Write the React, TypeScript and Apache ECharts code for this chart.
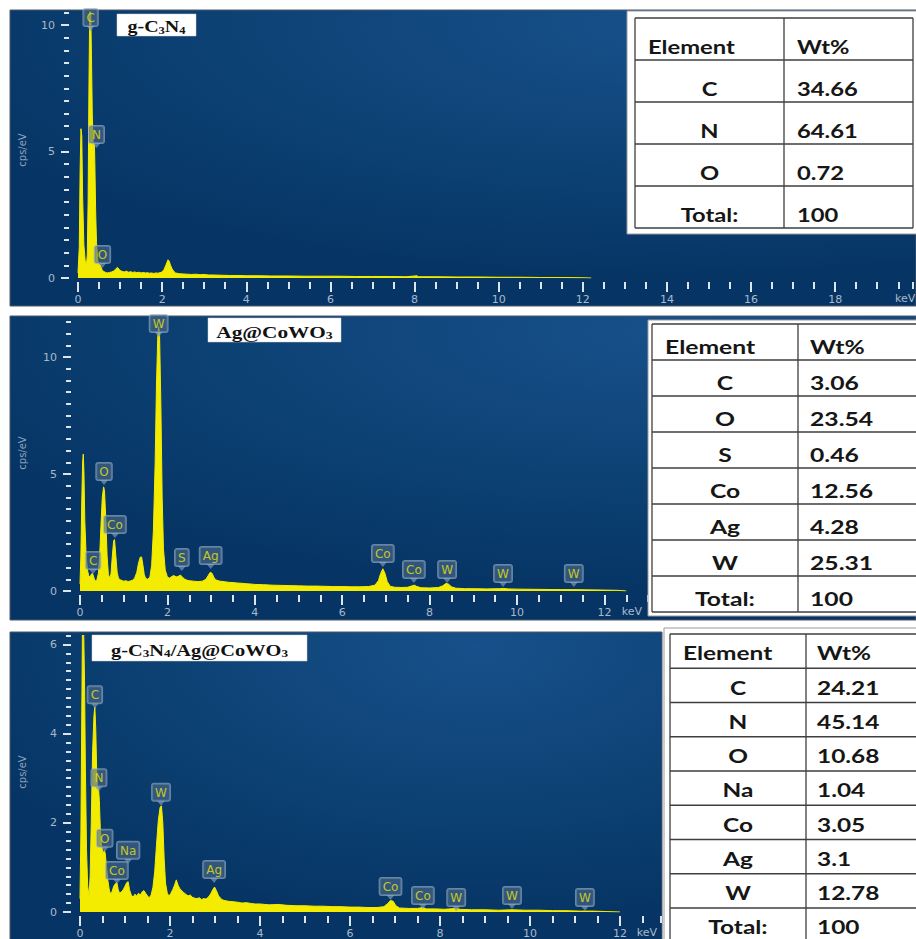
import React, { useEffect, useRef } from 'react';
import * as echarts from 'echarts';

// ---------- DATA ----------
// EDX spectra: [energy keV, counts cps/eV]
const spectrumGC3N4: [number, number][] = [
  [0, 0.2], [0.03, 1.2], [0.05, 4.2], [0.07, 5.9], [0.09, 5.6], [0.11, 3.2], [0.14, 1.3], [0.17, 0.7],
  [0.2, 0.5], [0.22, 0.9], [0.24, 3.0], [0.26, 7.5], [0.28, 10.8], [0.3, 10.8], [0.32, 8.8], [0.34, 6.4],
  [0.36, 5.4], [0.38, 5.0], [0.39, 5.3], [0.4, 4.6], [0.42, 2.6], [0.44, 1.4], [0.47, 0.7], [0.5, 0.5],
  [0.52, 0.55], [0.55, 0.42], [0.58, 0.3], [0.62, 0.25], [0.66, 0.22], [0.7, 0.2], [0.75, 0.22], [0.8, 0.24],
  [0.85, 0.28], [0.9, 0.36], [0.94, 0.42], [0.97, 0.36], [1.0, 0.3], [1.05, 0.26], [1.1, 0.24], [1.15, 0.27],
  [1.2, 0.23], [1.25, 0.25], [1.3, 0.22], [1.35, 0.24], [1.4, 0.21], [1.45, 0.23], [1.5, 0.2], [1.55, 0.22],
  [1.6, 0.2], [1.65, 0.21], [1.7, 0.19], [1.75, 0.2], [1.8, 0.18], [1.85, 0.2], [1.9, 0.19], [1.95, 0.21],
  [2.0, 0.24], [2.05, 0.35], [2.1, 0.55], [2.14, 0.72], [2.17, 0.66], [2.2, 0.5], [2.24, 0.35], [2.28, 0.26],
  [2.32, 0.2], [2.4, 0.17], [2.5, 0.16], [2.6, 0.15], [2.7, 0.14], [2.8, 0.15], [2.9, 0.13], [3.0, 0.14],
  [3.1, 0.12], [3.2, 0.12], [3.4, 0.11], [3.6, 0.1], [3.8, 0.1], [4.0, 0.09], [4.3, 0.09], [4.6, 0.08],
  [5.0, 0.08], [5.4, 0.07], [5.8, 0.07], [6.2, 0.07], [6.6, 0.06], [7.0, 0.06], [7.4, 0.06], [7.8, 0.05],
  [8.0, 0.08], [8.05, 0.09], [8.1, 0.05], [8.5, 0.05], [9.0, 0.04], [9.5, 0.04], [10.0, 0.03], [10.5, 0.03],
  [11.0, 0.02], [11.5, 0.02], [12.0, 0.01], [12.2, 0],
];

const spectrumAgCoWO3: [number, number][] = [
  [0, 0.3], [0.02, 1.5], [0.04, 3.8], [0.06, 5.5], [0.075, 5.85], [0.09, 5.1], [0.11, 3.0], [0.14, 1.5],
  [0.17, 0.9], [0.2, 0.65], [0.23, 0.6], [0.26, 0.72], [0.28, 0.76], [0.3, 0.68], [0.33, 0.5], [0.36, 0.42],
  [0.39, 0.5], [0.42, 0.75], [0.45, 1.5], [0.48, 2.8], [0.51, 4.0], [0.54, 4.45], [0.56, 4.3], [0.59, 3.1],
  [0.62, 1.5], [0.65, 0.7], [0.68, 0.55], [0.71, 0.75], [0.74, 1.5], [0.77, 2.15], [0.79, 2.2], [0.82, 1.5],
  [0.85, 0.8], [0.88, 0.55], [0.92, 0.48], [0.96, 0.45], [1.0, 0.42], [1.05, 0.44], [1.1, 0.4], [1.15, 0.43],
  [1.2, 0.46], [1.25, 0.55], [1.3, 0.8], [1.34, 1.2], [1.38, 1.45], [1.41, 1.45], [1.44, 1.1], [1.47, 0.7],
  [1.5, 0.55], [1.55, 0.5], [1.6, 0.6], [1.64, 1.1], [1.68, 2.6], [1.72, 5.5], [1.75, 8.8], [1.78, 10.9],
  [1.8, 11.3], [1.82, 11.0], [1.85, 8.0], [1.88, 4.0], [1.91, 1.8], [1.95, 0.9], [2.0, 0.6], [2.05, 0.55],
  [2.1, 0.62], [2.15, 0.66], [2.2, 0.6], [2.25, 0.63], [2.3, 0.68], [2.35, 0.58], [2.4, 0.5], [2.45, 0.46],
  [2.5, 0.44], [2.6, 0.42], [2.7, 0.4], [2.8, 0.42], [2.88, 0.5], [2.94, 0.68], [2.98, 0.8], [3.02, 0.76],
  [3.06, 0.6], [3.1, 0.48], [3.2, 0.42], [3.3, 0.4], [3.4, 0.37], [3.5, 0.36], [3.6, 0.34], [3.7, 0.33],
  [3.8, 0.31], [3.9, 0.3], [4.0, 0.28], [4.2, 0.27], [4.4, 0.25], [4.6, 0.24], [4.8, 0.23], [5.0, 0.22],
  [5.2, 0.21], [5.4, 0.21], [5.6, 0.2], [5.8, 0.19], [6.0, 0.19], [6.2, 0.18], [6.4, 0.18], [6.6, 0.19],
  [6.75, 0.25], [6.83, 0.45], [6.88, 0.75], [6.93, 0.95], [6.98, 0.75], [7.03, 0.4], [7.1, 0.2], [7.2, 0.16],
  [7.35, 0.15], [7.5, 0.16], [7.6, 0.22], [7.65, 0.25], [7.7, 0.2], [7.8, 0.14], [8.0, 0.13], [8.2, 0.15],
  [8.3, 0.22], [8.37, 0.32], [8.43, 0.3], [8.5, 0.18], [8.6, 0.12], [8.8, 0.1], [9.0, 0.1], [9.3, 0.09],
  [9.6, 0.1], [9.7, 0.11], [9.8, 0.09], [10.0, 0.08], [10.5, 0.07], [11.0, 0.06], [11.3, 0.06], [11.6, 0.05],
  [12.0, 0.04], [12.3, 0.03], [12.5, 0],
];

const spectrumComposite: [number, number][] = [
  [0, 0.3], [0.02, 1.8], [0.04, 4.5], [0.055, 6.4], [0.08, 6.4], [0.1, 5.2], [0.12, 3.2], [0.145, 1.4],
  [0.17, 0.6], [0.2, 0.35], [0.225, 0.8], [0.25, 2.0], [0.28, 3.6], [0.31, 4.4], [0.33, 4.6], [0.35, 4.1],
  [0.37, 3.2], [0.39, 2.7], [0.41, 2.8], [0.43, 2.5], [0.45, 1.9], [0.48, 1.5], [0.51, 1.3], [0.54, 1.38],
  [0.56, 1.32], [0.59, 1.0], [0.62, 0.7], [0.65, 0.5], [0.68, 0.4], [0.71, 0.45], [0.75, 0.58], [0.79, 0.64],
  [0.82, 0.66], [0.85, 0.5], [0.88, 0.42], [0.92, 0.45], [0.96, 0.5], [1.0, 0.58], [1.04, 0.66], [1.07, 0.68],
  [1.1, 0.5], [1.14, 0.38], [1.18, 0.33], [1.22, 0.4], [1.26, 0.36], [1.3, 0.42], [1.34, 0.38], [1.38, 0.45],
  [1.42, 0.48], [1.46, 0.42], [1.5, 0.36], [1.54, 0.32], [1.58, 0.38], [1.62, 0.55], [1.66, 0.9], [1.7, 1.5],
  [1.74, 2.05], [1.78, 2.35], [1.81, 2.38], [1.84, 2.0], [1.87, 1.2], [1.9, 0.65], [1.94, 0.42], [1.98, 0.36],
  [2.02, 0.42], [2.06, 0.5], [2.1, 0.6], [2.14, 0.72], [2.18, 0.6], [2.22, 0.52], [2.26, 0.48], [2.3, 0.44],
  [2.35, 0.4], [2.4, 0.36], [2.45, 0.38], [2.5, 0.33], [2.55, 0.31], [2.6, 0.3], [2.65, 0.32], [2.7, 0.28],
  [2.75, 0.3], [2.8, 0.29], [2.85, 0.33], [2.9, 0.4], [2.95, 0.5], [2.99, 0.56], [3.03, 0.48], [3.08, 0.36],
  [3.15, 0.28], [3.2, 0.26], [3.3, 0.24], [3.4, 0.23], [3.5, 0.22], [3.6, 0.2], [3.7, 0.21], [3.8, 0.19],
  [3.9, 0.18], [4.0, 0.18], [4.2, 0.16], [4.4, 0.17], [4.6, 0.15], [4.8, 0.14], [5.0, 0.14], [5.2, 0.13],
  [5.4, 0.13], [5.6, 0.12], [5.8, 0.12], [6.0, 0.11], [6.2, 0.11], [6.4, 0.1], [6.6, 0.1], [6.75, 0.12],
  [6.83, 0.18], [6.9, 0.26], [6.96, 0.24], [7.02, 0.14], [7.1, 0.09], [7.3, 0.08], [7.5, 0.08], [7.62, 0.1],
  [7.7, 0.07], [7.9, 0.07], [8.1, 0.06], [8.35, 0.08], [8.45, 0.06], [8.7, 0.05], [9.0, 0.05], [9.3, 0.04],
  [9.6, 0.05], [9.9, 0.04], [10.2, 0.04], [10.5, 0.03], [10.8, 0.03], [11.1, 0.02], [11.4, 0.02], [11.7, 0.01],
  [12.0, 0],
];

// Peak markers: element, energy (keV), height of marker tip (cps/eV)
const peaksGC3N4 = [
  { el: 'C', keV: 0.3, cps: 9.76 },
  { el: 'N', keV: 0.44, cps: 5.14 },
  { el: 'O', keV: 0.58, cps: 0.4 },
];
const peaksAgCoWO3 = [
  { el: 'W', keV: 1.8, cps: 10.85 },
  { el: 'O', keV: 0.55, cps: 4.53 },
  { el: 'Co', keV: 0.8, cps: 2.26 },
  { el: 'C', keV: 0.3, cps: 0.73 },
  { el: 'S', keV: 2.33, cps: 0.85 },
  { el: 'Ag', keV: 2.99, cps: 0.94 },
  { el: 'Co', keV: 6.93, cps: 1.03 },
  { el: 'Co', keV: 7.64, cps: 0.34 },
  { el: 'W', keV: 8.4, cps: 0.34 },
  { el: 'W', keV: 9.68, cps: 0.17 },
  { el: 'W', keV: 11.3, cps: 0.17 },
];
const peaksComposite = [
  { el: 'C', keV: 0.33, cps: 4.57 },
  { el: 'N', keV: 0.42, cps: 2.71 },
  { el: 'W', keV: 1.8, cps: 2.38 },
  { el: 'O', keV: 0.55, cps: 1.35 },
  { el: 'Na', keV: 1.07, cps: 1.08 },
  { el: 'Co', keV: 0.82, cps: 0.63 },
  { el: 'Ag', keV: 2.98, cps: 0.65 },
  { el: 'Co', keV: 6.9, cps: 0.27 },
  { el: 'Co', keV: 7.62, cps: 0.07 },
  { el: 'W', keV: 8.36, cps: 0.02 },
  { el: 'W', keV: 9.6, cps: 0.07 },
  { el: 'W', keV: 11.22, cps: 0.02 },
];

// Tick labels
const xLabels1 = [0, 2, 4, 6, 8, 10, 12, 14, 16, 18];
const xLabels23 = [0, 2, 4, 6, 8, 10, 12];
const yLabels1 = [0, 5, 10];
const yLabels2 = [0, 5, 10];
const yLabels3 = [0, 2, 4, 6];

// Composition tables
const tableHeader = ['Element', 'Wt%'];
const totalRow = ['Total:', '100'];
const table1Elements = ['C', 'N', 'O'];
const table1Wt = ['34.66', '64.61', '0.72'];
const table2Elements = ['C', 'O', 'S', 'Co', 'Ag', 'W'];
const table2Wt = ['3.06', '23.54', '0.46', '12.56', '4.28', '25.31'];
const table3Elements = ['C', 'N', 'O', 'Na', 'Co', 'Ag', 'W'];
const table3Wt = ['24.21', '45.14', '10.68', '1.04', '3.05', '3.1', '12.78'];

// Sample titles (rich text: n = normal, s = subscript)
const title1 = '{n|g-C}{s|3}{n|N}{s|4}';
const title2 = '{n|Ag@CoWO}{s|3}';
const title3 = '{n|g-C}{s|3}{n|N}{s|4}{n|/Ag@CoWO}{s|3}';

// ---------- LAYOUT ----------
const panels = [
  {
    bg: [10, 10, 906, 296],
    grid: { left: 78, top: 12.35, width: 837.7, height: 265.65 },
    xMax: 19.85, yMax: 10.5, yStep: 0.5,
    xLabels: xLabels1, yLabels: yLabels1,
    spectrum: spectrumGC3N4, peaks: peaksGC3N4,
    keV: { x: 895, y: 298, align: 'left' },
    cps: { x: 22, y: 150 },
    titleBox: [117, 14, 79, 22], title: title1, titleSize: 16, titleScale: 1.25,
  },
  {
    bg: [10, 316, 906, 304],
    grid: { left: 80, top: 321.9, width: 568.1, height: 269.1 },
    xMax: 13, yMax: 11.5, yStep: 0.5,
    xLabels: xLabels23, yLabels: yLabels2,
    spectrum: spectrumAgCoWO3, peaks: peaksAgCoWO3,
    keV: { x: 632, y: 611, align: 'center' },
    cps: { x: 22, y: 453 },
    titleBox: [208, 318, 133, 24], title: title2, titleSize: 17, titleScale: 1.25,
  },
  {
    bg: [10, 632, 652, 320],
    grid: { left: 80, top: 635.5, width: 580.5, height: 276.5 },
    xMax: 12.9, yMax: 6.2, yStep: 0.2,
    xLabels: xLabels23, yLabels: yLabels3,
    spectrum: spectrumComposite, peaks: peaksComposite,
    keV: { x: 647, y: 932, align: 'center' },
    cps: { x: 22, y: 772 },
    titleBox: [92, 635, 215, 26], title: title3, titleSize: 17, titleScale: 1.2,
  },
];

const tables = [
  { box: [627, 11, 300, 223], left: 635, div: 784, right: 913, top: 18, rowH: 42, dy: 7.5,
    headX: 648, elCx: 709.5, valX: 797, fs: 19, sx: 1.25, els: table1Elements, vals: table1Wt },
  { box: [648, 320, 300, 296], left: 652, div: 798, right: 930, top: 324, rowH: 36, dy: 5,
    headX: 665, elCx: 725, valX: 810, fs: 19, sx: 1.3, els: table2Elements, vals: table2Wt },
  { box: [664, 628, 300, 320], left: 670, div: 806, right: 930, top: 634, rowH: 34.25, dy: 2.5,
    headX: 683, elCx: 738, valX: 817, fs: 18.5, sx: 1.32, els: table3Elements, vals: table3Wt },
];

const AXIS_TEXT = '#aab9c9';
const TICK = '#dde4ec';
const YELLOW = '#f4ec00';
const FONT = 'DejaVu Sans';

function isIn(list: number[], v: number) {
  return list.some((t) => Math.abs(t - v) < 1e-6);
}

function buildOption() {
  const grid: any[] = [];
  const xAxis: any[] = [];
  const yAxis: any[] = [];
  const series: any[] = [];
  const graphics: any[] = [];

  panels.forEach((p, i) => {
    grid.push({ ...p.grid, containLabel: false });
    // main x axis (minor ticks + labels)
    xAxis.push({
      type: 'value', gridIndex: i, min: 0, max: p.xMax, interval: 0.5, position: 'bottom', offset: 4,
      axisLine: { show: false, onZero: false },
      axisTick: { show: true, length: 7, lineStyle: { color: TICK, width: 2 } },
      axisLabel: {
        show: true, margin: 12, color: AXIS_TEXT, fontSize: 11, fontFamily: FONT,
        formatter: (v: number) => (isIn(p.xLabels, v) ? String(v) : ''),
      },
      splitLine: { show: false },
      z: 3,
    });
    // overlay x axis (major ticks)
    xAxis.push({
      type: 'value', gridIndex: i, min: 0, max: p.xMax, position: 'bottom', offset: 4,
      axisLine: { show: false, onZero: false },
      axisTick: { show: true, length: 10, customValues: p.xLabels, lineStyle: { color: TICK, width: 2 } },
      axisLabel: { show: false },
      splitLine: { show: false },
      z: 3,
    });
    yAxis.push({
      type: 'value', gridIndex: i, min: 0, max: p.yMax, interval: p.yStep, position: 'left', offset: 9,
      axisLine: { show: false, onZero: false },
      axisTick: { show: true, length: 5, lineStyle: { color: TICK, width: 2 } },
      axisLabel: {
        show: true, margin: 14, color: AXIS_TEXT, fontSize: 11, fontFamily: FONT,
        formatter: (v: number) => (isIn(p.yLabels, v) ? String(v) : ''),
      },
      splitLine: { show: false },
    });
    yAxis.push({
      type: 'value', gridIndex: i, min: 0, max: p.yMax, position: 'left', offset: 9,
      axisLine: { show: false, onZero: false },
      axisTick: { show: true, length: 8, customValues: p.yLabels, lineStyle: { color: TICK, width: 2 } },
      axisLabel: { show: false },
      splitLine: { show: false },
    });

    series.push({
      type: 'line', xAxisIndex: 2 * i, yAxisIndex: 2 * i, data: p.spectrum,
      symbol: 'none', showSymbol: false, smooth: false,
      lineStyle: { color: YELLOW, width: 1 },
      areaStyle: { color: YELLOW, opacity: 1 },
      z: 2, silent: true,
    });
    series.push({
      type: 'scatter', xAxisIndex: 2 * i, yAxisIndex: 2 * i,
      data: p.peaks.map((k) => ({ name: k.el, value: [k.keV, k.cps] })),
      symbol: 'triangle', symbolRotate: 180, symbolSize: [8, 5], symbolOffset: [0, -2.5],
      itemStyle: { color: 'rgba(120,148,178,0.9)' },
      label: {
        show: true, position: 'top', distance: 0, formatter: '{b}',
        color: '#ebe30a', fontSize: 12, fontFamily: FONT,
        backgroundColor: 'rgba(78,108,140,0.75)', borderColor: 'rgba(150,172,196,0.85)', borderWidth: 1,
        borderRadius: 2, padding: [3, 3, 2, 3],
      },
      z: 4, silent: true,
    });

    const [bx, by, bw, bh] = p.bg;
    graphics.push({
      type: 'rect', z: -10,
      shape: { x: bx, y: by, width: bw, height: bh },
      style: {
        fill: new echarts.graphic.RadialGradient(0.72, 0.05, 0.85, [
          { offset: 0, color: '#17508a' },
          { offset: 0.55, color: '#0d4275' },
          { offset: 1, color: '#063565' },
        ]),
        stroke: '#4d5966', lineWidth: 1,
      },
    });
    graphics.push({
      type: 'text', z: 10, x: p.cps.x, y: p.cps.y, rotation: Math.PI / 2,
      style: { text: 'cps/eV', fill: '#8ea4bc', font: `10px "${FONT}"`, align: 'center', verticalAlign: 'middle' },
    });
    graphics.push({
      type: 'text', z: 10, x: p.keV.x, y: p.keV.y,
      style: { text: 'keV', fill: AXIS_TEXT, font: `11px "${FONT}"`, align: p.keV.align, verticalAlign: 'middle' },
    });
    const [tx, ty, tw, th] = p.titleBox;
    graphics.push({
      type: 'rect', z: 20, shape: { x: tx, y: ty, width: tw, height: th },
      style: { fill: '#ffffff', stroke: '#d0d0d0', lineWidth: 0.5 },
    });
    graphics.push({
      type: 'text', z: 21, x: tx + tw / 2, y: ty + th / 2 + 1, scaleX: p.titleScale,
      style: {
        text: p.title, align: 'center', verticalAlign: 'middle',
        rich: {
          n: { fontSize: p.titleSize, fontFamily: '"Liberation Serif"', fontWeight: 'bold', fill: '#111', verticalAlign: 'bottom', lineHeight: p.titleSize + 2 },
          s: { fontSize: Math.round(p.titleSize * 0.62), fontFamily: '"Liberation Serif"', fontWeight: 'bold', fill: '#111', verticalAlign: 'bottom', lineHeight: p.titleSize + 1 },
        },
      },
    });
  });

  tables.forEach((t) => {
    const rows = [tableHeader, ...t.els.map((e, i) => [e, t.vals[i]]), totalRow];
    const [bx, by, bw, bh] = t.box;
    graphics.push({
      type: 'rect', z: 50, shape: { x: bx, y: by, width: bw, height: bh },
      style: { fill: '#ffffff', stroke: '#9a9a9a', lineWidth: 1 },
    });
    const bottom = t.top + rows.length * t.rowH;
    for (let r = 0; r <= rows.length; r++) {
      const yy = t.top + r * t.rowH;
      graphics.push({
        type: 'line', z: 51, shape: { x1: t.left, y1: yy, x2: t.right, y2: yy },
        style: { stroke: '#3e3e3e', lineWidth: 1.3 },
      });
    }
    [t.left, t.div, t.right].forEach((xx) => {
      graphics.push({
        type: 'line', z: 51, shape: { x1: xx, y1: t.top, x2: xx, y2: bottom },
        style: { stroke: '#3e3e3e', lineWidth: 1.3 },
      });
    });
    rows.forEach((r, i) => {
      const cy = t.top + i * t.rowH + t.rowH / 2 + t.dy;
      graphics.push({
        type: 'text', z: 52, x: i === 0 ? t.headX : t.elCx, y: cy, scaleX: t.sx,
        style: { text: r[0], font: `bold ${t.fs}px Lato`, fill: '#161616', align: i === 0 ? 'left' : 'center', verticalAlign: 'middle' },
      });
      graphics.push({
        type: 'text', z: 52, x: t.valX, y: cy, scaleX: t.sx,
        style: { text: r[1], font: `bold ${t.fs}px Lato`, fill: '#161616', align: 'left', verticalAlign: 'middle' },
      });
    });
  });

  return {
    animation: false,
    backgroundColor: '#ffffff',
    grid,
    xAxis,
    yAxis,
    series,
    graphic: { elements: graphics },
  };
}

export default function App() {
  const ref = useRef<HTMLDivElement>(null);
  useEffect(() => {
    if (!ref.current) return;
    const chart = echarts.init(ref.current, null, { renderer: 'svg' });
    chart.setOption(buildOption() as any);
    return () => chart.dispose();
  }, []);
  return (
    <div
      ref={ref}
      style={{ position: 'fixed', left: 0, top: 0, width: 916, height: 939, background: '#fff' }}
    />
  );
}
